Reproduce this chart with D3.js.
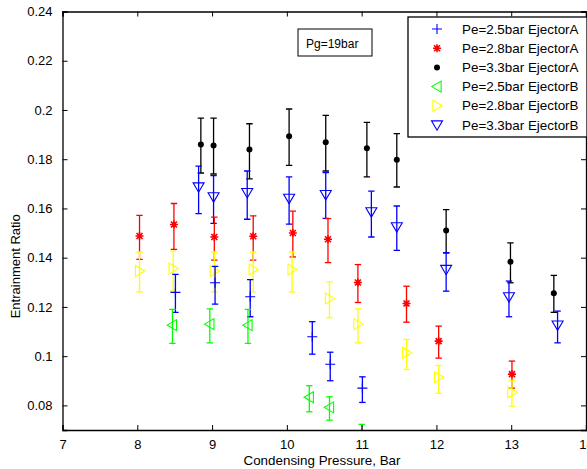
<!DOCTYPE html>
<html lang="en">
<head>
<meta charset="utf-8">
<script src="https://d3js.org/d3.v7.min.js"></script>
<title>Entrainment Ratio vs Condensing Pressure</title>
<style>
    body { margin: 0; background: #fff; }
    text { font-family: "Liberation Sans", Arial, sans-serif; fill: #000; }
</style>
</head>
<body>
<div id="chart"></div>
<script type="text/javascript">
// ---- data ----
var xTicks = [7, 8, 9, 10, 11, 12, 13, 14];
var yTicks = [0.08, 0.1, 0.12, 0.14, 0.16, 0.18, 0.2, 0.22, 0.24];

// Pe=2.5bar EjectorA
var a25X  = [8.51, 9.04, 9.51, 10.34, 10.58, 11.01];
var a25Y  = [0.1259, 0.1298, 0.1241, 0.1079, 0.0967, 0.0870];
var a25Lo = [0.1178, 0.1211, 0.1160, 0.1008, 0.0900, 0.0812];
var a25Hi = [0.1332, 0.1365, 0.1311, 0.1140, 0.1016, 0.0916];

// Pe=2.8bar EjectorA
var a28X  = [8.03, 8.49, 9.03, 9.55, 10.08, 10.55, 10.95, 11.60, 12.03, 13.01];
var a28Y  = [0.1488, 0.1535, 0.1484, 0.1487, 0.1500, 0.1475, 0.1299, 0.1214, 0.1061, 0.0927];
var a28Lo = [0.1393, 0.1434, 0.1390, 0.1390, 0.1403, 0.1380, 0.1218, 0.1138, 0.0992, 0.0870];
var a28Hi = [0.1572, 0.1620, 0.1565, 0.1570, 0.1589, 0.1559, 0.1372, 0.1284, 0.1122, 0.0980];

// Pe=3.3bar EjectorA
var a33X  = [8.85, 9.02, 9.50, 10.03, 10.52, 11.07, 11.47, 12.13, 12.99, 13.57];
var a33Y  = [0.1860, 0.1856, 0.1839, 0.1893, 0.1869, 0.1844, 0.1798, 0.1510, 0.1383, 0.1255];
var a33Lo = [0.1744, 0.1740, 0.1720, 0.1775, 0.1752, 0.1728, 0.1687, 0.1420, 0.1298, 0.1178];
var a33Hi = [0.1967, 0.1967, 0.1944, 0.2004, 0.1978, 0.1950, 0.1904, 0.1595, 0.1460, 0.1328];

// Pe=2.5bar EjectorB
var b25X  = [8.47, 8.97, 9.48, 10.30, 10.57, 11.00];
var b25Y  = [0.1126, 0.1130, 0.1126, 0.0833, 0.0792, 0.0660];
var b25Lo = [0.1052, 0.1054, 0.1052, 0.0774, 0.0740, 0.0600];
var b25Hi = [0.1190, 0.1192, 0.1190, 0.0880, 0.0835, 0.0723];

// Pe=2.8bar EjectorB
var b28X  = [8.03, 8.48, 9.03, 9.55, 10.07, 10.57, 10.95, 11.60, 12.03, 13.01];
var b28Y  = [0.1346, 0.1356, 0.1346, 0.1352, 0.1352, 0.1234, 0.1130, 0.1014, 0.0914, 0.0853];
var b28Lo = [0.1261, 0.1264, 0.1261, 0.1261, 0.1261, 0.1156, 0.1054, 0.0946, 0.0849, 0.0797];
var b28Hi = [0.1423, 0.1427, 0.1423, 0.1423, 0.1423, 0.1302, 0.1192, 0.1068, 0.0962, 0.0900];

// Pe=3.3bar EjectorB
var b33X  = [8.82, 9.02, 9.47, 10.03, 10.52, 11.13, 11.47, 12.13, 12.97, 13.62];
var b33Y  = [0.1687, 0.1647, 0.1664, 0.1641, 0.1656, 0.1586, 0.1525, 0.1352, 0.1241, 0.1126];
var b33Lo = [0.1579, 0.1539, 0.1556, 0.1536, 0.1560, 0.1484, 0.1430, 0.1264, 0.1160, 0.1054];
var b33Hi = [0.1772, 0.1733, 0.1752, 0.1728, 0.1746, 0.1670, 0.1610, 0.1420, 0.1305, 0.1183];

var seriesNames = ["Pe=2.5bar EjectorA", "Pe=2.8bar EjectorA", "Pe=3.3bar EjectorA",
                   "Pe=2.5bar EjectorB", "Pe=2.8bar EjectorB", "Pe=3.3bar EjectorB"];

// ---- layout ----
var W = 587, H = 469;
var margin = {top: 11.5, right: 1, bottom: 39, left: 62.5},
    width = W - margin.left - margin.right,
    height = H - margin.top - margin.bottom;

var svg = d3.select("#chart").append("svg")
    .attr("width", W)
    .attr("height", H);

var g = svg.append("g")
    .attr("transform", "translate(" + margin.left + "," + margin.top + ")");

var x = d3.scaleLinear().domain([7, 14]).range([0, width]);
var y = d3.scaleLinear().domain([0.07, 0.24]).range([height, 0]);

var series = [
    {name: seriesNames[0], xs: a25X, ys: a25Y, lo: a25Lo, hi: a25Hi, color: "#0000ff", marker: "plus"},
    {name: seriesNames[1], xs: a28X, ys: a28Y, lo: a28Lo, hi: a28Hi, color: "#ff0000", marker: "star"},
    {name: seriesNames[2], xs: a33X, ys: a33Y, lo: a33Lo, hi: a33Hi, color: "#000000", marker: "dot"},
    {name: seriesNames[3], xs: b25X, ys: b25Y, lo: b25Lo, hi: b25Hi, color: "#00ff00", marker: "left"},
    {name: seriesNames[4], xs: b28X, ys: b28Y, lo: b28Lo, hi: b28Hi, color: "#ffff00", marker: "right"},
    {name: seriesNames[5], xs: b33X, ys: b33Y, lo: b33Lo, hi: b33Hi, color: "#0000ff", marker: "down"}
];

function markerPath(type) {
    var r;
    if (type === "plus") {
        r = 5;
        return "M" + (-r) + ",0H" + r + "M0," + (-r) + "V" + r;
    }
    if (type === "star") {
        r = 4; var d = r * 0.75;
        return "M" + (-r) + ",0H" + r + "M0," + (-r) + "V" + r +
               "M" + (-d) + "," + (-d) + "L" + d + "," + d +
               "M" + (-d) + "," + d + "L" + d + "," + (-d);
    }
    if (type === "down") {
        r = 5.5;
        return "M" + (-r) + "," + (-r * 0.75) + "L" + r + "," + (-r * 0.75) + "L0," + (r * 0.95) + "Z";
    }
    if (type === "left") {
        r = 5.5;
        return "M" + (r * 0.75) + "," + (-r) + "L" + (r * 0.75) + "," + r + "L" + (-r * 0.95) + ",0Z";
    }
    if (type === "right") {
        r = 5.5;
        return "M" + (-r * 0.75) + "," + (-r) + "L" + (-r * 0.75) + "," + r + "L" + (r * 0.95) + ",0Z";
    }
    return "";
}

function drawMarker(sel, s) {
    if (s.marker === "dot") {
        sel.append("circle").attr("r", 3).attr("fill", s.color);
    } else {
        sel.append("path")
            .attr("d", markerPath(s.marker))
            .attr("fill", "none")
            .attr("stroke", s.color)
            .attr("stroke-width", s.marker === "star" ? 1.6 : 1.1);
    }
}

// clip to plot area
svg.append("defs").append("clipPath").attr("id", "plotClip")
    .append("rect").attr("width", width).attr("height", height);

var plot = g.append("g").attr("clip-path", "url(#plotClip)");

// draw order: black, blue triangles, red, yellow, blue plus, green
var drawOrder = [2, 5, 1, 4, 0, 3];
drawOrder.forEach(function(i) {
    var s = series[i];
    var pts = s.xs.map(function(v, k) { return {x: v, y: s.ys[k], lo: s.lo[k], hi: s.hi[k]}; });
    var sg = plot.append("g");

    var eb = sg.selectAll(".eb").data(pts).enter().append("g")
        .attr("stroke", s.color).attr("stroke-width", 1.3).attr("fill", "none");
    eb.append("line")
        .attr("x1", function(d) { return x(d.x); }).attr("x2", function(d) { return x(d.x); })
        .attr("y1", function(d) { return y(d.lo); }).attr("y2", function(d) { return y(d.hi); });
    eb.append("line")
        .attr("x1", function(d) { return x(d.x) - 3.2; }).attr("x2", function(d) { return x(d.x) + 3.2; })
        .attr("y1", function(d) { return y(d.lo); }).attr("y2", function(d) { return y(d.lo); });
    eb.append("line")
        .attr("x1", function(d) { return x(d.x) - 3.2; }).attr("x2", function(d) { return x(d.x) + 3.2; })
        .attr("y1", function(d) { return y(d.hi); }).attr("y2", function(d) { return y(d.hi); });

    pts.forEach(function(d) {
        var m = sg.append("g").attr("transform", "translate(" + x(d.x) + "," + y(d.y) + ")");
        drawMarker(m, s);
    });
});

// ---- axes (ticks pointing inward, box) ----
var tickLen = 5;
g.append("g").attr("transform", "translate(0," + height + ")")
    .call(d3.axisBottom(x).tickValues(xTicks).tickSize(-tickLen).tickPadding(10).tickFormat(d3.format("d")));
g.append("g")
    .call(d3.axisTop(x).tickValues(xTicks).tickSize(-tickLen).tickFormat(""));
g.append("g")
    .call(d3.axisLeft(y).tickValues(yTicks).tickSize(-tickLen).tickPadding(10).tickFormat(function(d) { return +d.toFixed(2); }));
g.append("g").attr("transform", "translate(" + width + ",0)")
    .call(d3.axisRight(y).tickValues(yTicks).tickSize(-tickLen).tickFormat(""));

g.selectAll(".domain").attr("stroke", "#000").attr("stroke-width", 1.3);
g.selectAll(".tick line").attr("stroke", "#000");
g.selectAll(".tick text").style("font-size", "13px").style("font-family", "'Liberation Sans', Arial, sans-serif");

// axis titles
g.append("text")
    .attr("text-anchor", "middle")
    .attr("x", x(10.47))
    .attr("y", height + 35)
    .style("font-size", "13.4px")
    .text("Condensing Pressure, Bar");

g.append("text")
    .attr("text-anchor", "middle")
    .attr("transform", "rotate(-90)")
    .attr("x", -y(0.1365))
    .attr("y", -margin.left + 20)
    .style("font-size", "13px")
    .text("Entrainment Ratio");

// ---- annotation box ----
var ann = g.append("g").attr("transform", "translate(" + (298 - margin.left) + "," + (29 - margin.top) + ")");
ann.append("rect").attr("width", 74).attr("height", 27)
    .attr("fill", "#fff").attr("stroke", "#000").attr("stroke-width", 1);
ann.append("text").attr("x", 8).attr("y", 18.5).style("font-size", "12px").text("Pg=19bar");

// ---- legend ----
var leg = g.append("g").attr("transform", "translate(" + (408 - margin.left) + "," + (17 - margin.top) + ")");
leg.append("rect").attr("width", 179).attr("height", 120)
    .attr("fill", "#fff").attr("stroke", "#000").attr("stroke-width", 1.3);
series.forEach(function(s, i) {
    var row = leg.append("g").attr("transform", "translate(0," + (12 + i * 19.2) + ")");
    var m = row.append("g").attr("transform", "translate(29,0)");
    drawMarker(m, s);
    row.append("text").attr("x", 54).attr("y", 4.5).style("font-size", "13.4px").text(s.name);
});
</script>
</body>
</html>
